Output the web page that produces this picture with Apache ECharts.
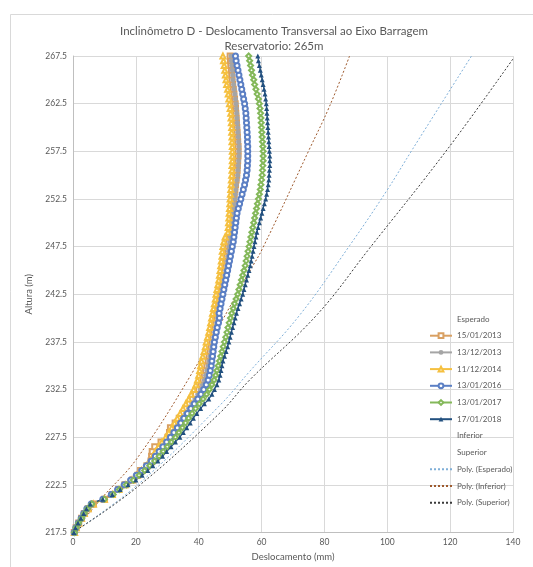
<!DOCTYPE html>
<html>
<head>
<meta charset="utf-8">
<script src="https://cdn.jsdelivr.net/npm/echarts@6/dist/echarts.min.js"></script>
<style>
  html, body { margin: 0; padding: 0; background: #fff; }
  #chart { width: 533px; height: 567px; }
</style>
</head>
<body>
<div id="chart"></div>
<script>
// heights (m), one reading every 0.5 m
const heights = [
  217.5, 218, 218.5, 219, 219.5, 220, 220.5, 221, 221.5, 222,
  222.5, 223, 223.5, 224, 224.5, 225, 225.5, 226, 226.5, 227,
  227.5, 228, 228.5, 229, 229.5, 230, 230.5, 231, 231.5, 232,
  232.5, 233, 233.5, 234, 234.5, 235, 235.5, 236, 236.5, 237,
  237.5, 238, 238.5, 239, 239.5, 240, 240.5, 241, 241.5, 242,
  242.5, 243, 243.5, 244, 244.5, 245, 245.5, 246, 246.5, 247,
  247.5, 248, 248.5, 249, 249.5, 250, 250.5, 251, 251.5, 252,
  252.5, 253, 253.5, 254, 254.5, 255, 255.5, 256, 256.5, 257,
  257.5, 258, 258.5, 259, 259.5, 260, 260.5, 261, 261.5, 262,
  262.5, 263, 263.5, 264, 264.5, 265, 265.5, 266, 266.5, 267,
  267.5
];

// displacement (mm) per reading
const d2013a = [
  0.4, 1, 1.8, 2.7, 3.6, 4.8, 6.5, 10, 12.5, 14.5,
  16.5, 19, 20.6, 21.5, 23.5, 24.8, 25, 25.2, 26, 28,
  30.2, 30.7, 31, 32.5, 33.8, 35, 36, 37, 38, 39,
  40, 40.8, 41.4, 41.8, 42.2, 42.6, 43, 43.3, 43.6, 43.9,
  44.2, 44.5, 44.8, 45.1, 45.4, 45.7, 45.9, 46.2, 46.5, 46.8,
  47, 47.3, 47.6, 47.8, 48.1, 48.3, 48.6, 48.8, 49, 49.2,
  49.4, 49.6, 49.8, 50, 50.2, 50.3, 50.4, 50.6, 50.7, 50.9,
  51.1, 51.3, 51.5, 51.7, 51.9, 52.1, 52.2, 52.3, 52.4, 52.5,
  52.5, 52.5, 52.4, 52.3, 52.2, 52.1, 52, 51.9, 51.8, 51.7,
  51.6, 51.4, 51.2, 51, 50.8, 50.6, 50.5, 50.4, 50.2, 50.1,
  50
];
const d2013b = [
  0.4, 0.9, 1.7, 2.6, 3.5, 4.6, 6, 9.6, 12, 14,
  16, 18, 19.8, 21.5, 23, 24.4, 25.7, 26.9, 28.1, 29.3,
  30.5, 31.6, 32.7, 33.8, 34.8, 35.8, 36.8, 37.8, 38.8, 39.7,
  40.5, 41.2, 41.8, 42.2, 42.6, 43, 43.3, 43.6, 43.9, 44.2,
  44.5, 44.8, 45.1, 45.4, 45.7, 46, 46.2, 46.5, 46.8, 47.1,
  47.3, 47.6, 47.9, 48.1, 48.4, 48.6, 48.9, 49.1, 49.3, 49.5,
  49.7, 49.9, 50.1, 50.3, 50.5, 50.6, 50.7, 50.9, 51, 51.2,
  51.4, 51.6, 51.8, 52, 52.2, 52.4, 52.5, 52.6, 52.7, 52.8,
  52.8, 52.8, 52.7, 52.6, 52.5, 52.4, 52.3, 52.2, 52.1, 52,
  51.9, 51.7, 51.5, 51.3, 51.1, 50.9, 50.8, 50.7, 50.5, 50.4,
  50.3
];
const d2014 = [
  0.5, 1, 1.8, 2.7, 3.6, 4.8, 6.5, 10, 12.5, 14.6,
  16.6, 18.5, 20.2, 21.8, 23.4, 24.6, 25.4, 26.2, 27.2, 28.3,
  29.5, 30.5, 31.4, 32.3, 33.2, 34.1, 35, 35.9, 36.8, 37.6,
  38.4, 39.1, 39.6, 40, 40.3, 40.6, 40.9, 41.3, 41.7, 42.1,
  42.4, 42.8, 43.2, 43.5, 43.8, 44.1, 44.4, 44.7, 45, 45.3,
  45.5, 45.8, 46.1, 46.4, 46.6, 46.8, 47, 47.2, 47.4, 47.5,
  47.7, 48, 48.4, 49.3, 49.4, 49.5, 49.6, 49.7, 49.8, 49.9,
  50, 50.1, 50.2, 50.3, 50.4, 50.5, 50.6, 50.6, 50.7, 50.7,
  50.7, 50.7, 50.6, 50.6, 50.5, 50.5, 50.4, 50.3, 50.2, 50,
  49.8, 49.6, 49.4, 49.2, 48.9, 48.7, 48.5, 48.3, 48.1, 47.9,
  47.7
];
const d2016 = [
  0.4, 0.9, 1.7, 2.6, 3.4, 4.4, 5.8, 9.5, 12.2, 14.2,
  16.3, 18.4, 20.2, 21.9, 23.4, 24.9, 26.2, 27.4, 28.6, 29.8,
  31, 32.1, 33.2, 34.3, 35.3, 36.4, 37.5, 38.6, 39.7, 40.7,
  41.6, 42.4, 43, 43.4, 43.7, 44, 44.2, 44.4, 44.6, 44.8,
  45, 45.3, 45.6, 45.9, 46.3, 46.6, 46.5, 46.8, 47.1, 47.4,
  47.7, 48, 48.3, 48.6, 48.9, 49.2, 49.5, 49.8, 50.1, 50.4,
  50.7, 51, 51.2, 51.4, 51.6, 51.8, 52, 52.2, 52.6, 53,
  53.4, 53.8, 54.2, 54.6, 54.9, 55.2, 55.4, 55.5, 55.6, 55.6,
  55.6, 55.6, 55.5, 55.5, 55.4, 55.3, 55.2, 55.1, 55, 54.8,
  54.6, 54.3, 54, 53.7, 53.4, 53.1, 52.8, 52.5, 52.2, 51.9,
  51.7
];
const d2017 = [
  0.5, 1, 1.8, 2.8, 3.6, 4.6, 6, 10, 12.8, 14.8,
  17, 19.2, 21, 22.8, 24.4, 26, 27.4, 28.7, 30, 31.3,
  32.6, 33.7, 34.8, 35.8, 36.8, 37.9, 39, 40.2, 41.4, 42.5,
  43.4, 44.2, 44.9, 45.4, 45.8, 46.2, 46.6, 47, 47.4, 47.8,
  48.2, 48.6, 49, 49.3, 49.7, 50.1, 50.5, 51, 51.4, 51.9,
  52.4, 52.8, 53.2, 53.6, 54, 54.4, 54.8, 55.1, 55.4, 55.7,
  56, 56.3, 56.6, 56.9, 57.2, 57.5, 57.8, 58.1, 58.4, 58.7,
  59, 59.3, 59.6, 59.8, 60, 60.2, 60.3, 60.4, 60.5, 60.5,
  60.5, 60.4, 60.3, 60.2, 60.1, 60, 59.9, 59.8, 59.7, 59.5,
  59.3, 59, 58.6, 58.2, 57.8, 57.5, 57.1, 56.8, 56.5, 56.2,
  55.9
];
const d2018 = [
  0.3, 0.8, 1.6, 2.5, 3.4, 4.3, 5.5, 9.5, 12.5, 15,
  17.5, 20, 22, 23.8, 25.4, 27, 28.5, 29.8, 31.2, 32.6,
  34, 35.1, 36.2, 37.3, 38.3, 39.4, 40.6, 41.8, 43.2, 44.2,
  45, 45.8, 46.4, 46.8, 47.1, 47.4, 47.7, 48.2, 48.7, 49.2,
  49.6, 50, 50.4, 50.8, 51.2, 51.6, 52, 52.5, 53, 53.5,
  54, 54.4, 54.8, 55.2, 55.6, 56, 56.4, 56.7, 57, 57.3,
  57.6, 57.9, 58.2, 58.5, 58.9, 59.3, 59.7, 60.1, 60.5, 60.9,
  61.3, 61.6, 61.9, 62.1, 62.3, 62.4, 62.5, 62.6, 62.6, 62.6,
  62.5, 62.4, 62.3, 62.2, 62.1, 62, 61.9, 61.8, 61.7, 61.6,
  61.5, 61.3, 61.1, 60.8, 60.5, 60.2, 59.9, 59.6, 59.3, 59,
  58.8
];

// polynomial trend lines
const polyEspX = [0, 20.2, 46.6, 56.2, 72.1, 88, 99.7, 108, 126.8];
const polyEspY = [217.5, 222.4, 230.8, 234.4, 240.3, 247.6, 253.3, 257.7, 267.5];
const polyInfX = [0, 9.4, 20.2, 37.1, 56.2, 60.3, 75.2, 81.6, 88];
const polyInfY = [217.5, 221.2, 225.2, 233.8, 244.9, 247.3, 257.7, 262.2, 267.5];
const polySupX = [0, 20.2, 46.6, 56.2, 77.5, 94.3, 119.1, 140];
const polySupY = [217.5, 222.2, 230, 233.5, 240.3, 247.3, 257.7, 267.2];

const readings = [
  { name: '15/01/2013', values: d2013a, symbol: 'emptyRect', color: '#D9A062' },
  { name: '13/12/2013', values: d2013b, symbol: 'circle', color: '#A5A5A5' },
  { name: '11/12/2014', values: d2014, symbol: 'emptyTriangle', color: '#F5C040' },
  { name: '13/01/2016', values: d2016, symbol: 'emptyCircle', color: '#5B7FC4' },
  { name: '13/01/2017', values: d2017, symbol: 'emptyDiamond', color: '#84B85A' },
  { name: '17/01/2018', values: d2018, symbol: 'triangle', color: '#22507F' }
];
const trends = [
  { name: 'Poly. (Esperado)', xs: polyEspX, ys: polyEspY, color: '#7FAFD8' },
  { name: 'Poly. (Inferior)', xs: polyInfX, ys: polyInfY, color: '#9E5A2E' },
  { name: 'Poly. (Superior)', xs: polySupX, ys: polySupY, color: '#3A3A3A' }
];

const FONT = 'Lato, "Open Sans", sans-serif';
const TXT = '#595959';

const series = [{ name: 'Esperado', type: 'line', data: [] }];
readings.forEach(r => {
  series.push({
    name: r.name,
    type: 'line',
    data: r.values.map((v, i) => [v, heights[i]]),
    symbol: r.symbol,
    symbolSize: 5,
    color: r.color,
    lineStyle: { width: 1.2, color: r.color },
    itemStyle: { color: r.color, borderWidth: 1 }
  });
});
series.push({ name: 'Inferior', type: 'line', data: [] });
series.push({ name: 'Superior', type: 'line', data: [] });
trends.forEach(t => {
  series.push({
    name: t.name,
    type: 'line',
    smooth: 0.4,
    symbol: 'none',
    data: t.xs.map((x, i) => [x, t.ys[i]]),
    color: t.color,
    lineStyle: { width: 1, type: [2, 2], color: t.color }
  });
});

const hiddenNames = ['Esperado', 'Inferior', 'Superior'];
const legendData = series.map(s => {
  if (hiddenNames.indexOf(s.name) >= 0) return { name: s.name, icon: 'none' };
  if (s.name.indexOf('Poly.') === 0) return { name: s.name, itemStyle: { opacity: 0 } };
  return { name: s.name };
});

const chart = echarts.init(document.getElementById('chart'), null, { renderer: 'canvas' });
chart.setOption({
  animation: false,
  backgroundColor: '#fff',
  textStyle: { fontFamily: FONT },
  graphic: [
    {
      type: 'rect', silent: true, z: -10,
      shape: { x: 10.5, y: 14.5, width: 600, height: 600 },
      style: { fill: null, stroke: '#d9d9d9', lineWidth: 1 }
    },
    {
      type: 'text', silent: true,
      style: {
        x: 274, y: 31, text: 'Inclinômetro D - Deslocamento Transversal ao Eixo Barragem',
        align: 'center', verticalAlign: 'middle', fill: TXT, font: '11.5px ' + FONT
      }
    },
    {
      type: 'text', silent: true,
      style: {
        x: 274, y: 46, text: 'Reservatorio: 265m',
        align: 'center', verticalAlign: 'middle', fill: TXT, font: '11.5px ' + FONT
      }
    }
  ],
  grid: { left: 73, right: 20, top: 56, bottom: 30, containLabel: false },
  legend: {
    orient: 'vertical',
    left: 429,
    top: 314,
    padding: 0,
    itemWidth: 22,
    itemHeight: 6,
    itemGap: 6.7,
    data: legendData,
    textStyle: { color: TXT, fontSize: 8, lineHeight: 10, fontFamily: FONT },
    selectedMode: false
  },
  xAxis: {
    type: 'value',
    min: 0, max: 140, interval: 20,
    name: 'Deslocamento (mm)',
    nameLocation: 'middle',
    nameGap: 19.5,
    nameTextStyle: { color: TXT, fontSize: 9.5, fontFamily: FONT },
    axisLine: { show: true, lineStyle: { color: '#bfbfbf' } },
    axisTick: { show: false },
    axisLabel: { color: TXT, fontSize: 8.5, margin: 5, fontFamily: FONT },
    splitLine: { show: true, lineStyle: { color: '#d9d9d9' } }
  },
  yAxis: {
    type: 'value',
    min: 217.5, max: 267.5, interval: 5,
    name: 'Altura (m)',
    nameLocation: 'middle',
    nameRotate: 90,
    nameGap: 28,
    nameTextStyle: { color: TXT, fontSize: 9.5, fontFamily: FONT },
    axisLine: { show: true, lineStyle: { color: '#bfbfbf' } },
    axisTick: { show: false },
    axisLabel: { color: TXT, fontSize: 8.5, margin: 6, fontFamily: FONT, formatter: v => v.toFixed(1) },
    splitLine: { show: true, lineStyle: { color: '#d9d9d9' } }
  },
  series: series
});
</script>
</body>
</html>
